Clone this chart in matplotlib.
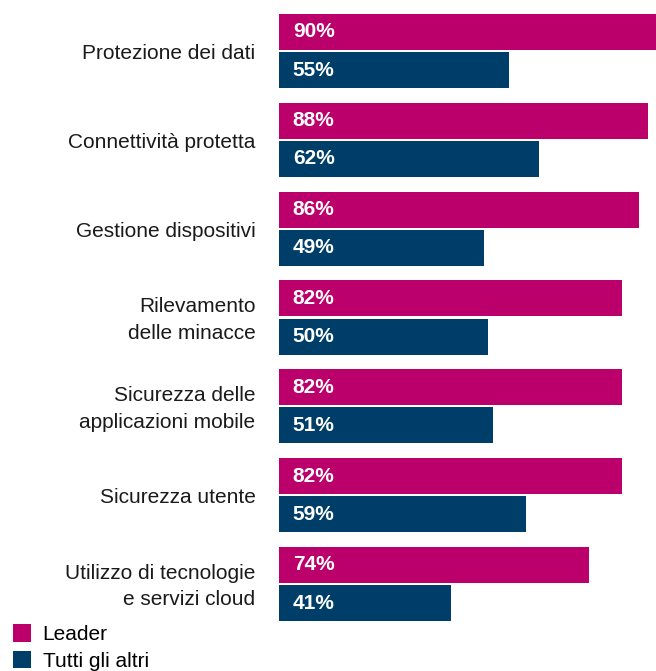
import matplotlib.pyplot as plt
import numpy as np

plt.rcParams['font.family'] = ['Liberation Sans', 'DejaVu Sans']

categorie = ["Protezione dei dati", "Connettività protetta", "Gestione dispositivi",
             "Rilevamento\ndelle minacce", "Sicurezza delle\napplicazioni mobile",
             "Sicurezza utente", "Utilizzo di tecnologie\ne servizi cloud"]
leader = [90, 88, 86, 82, 82, 82, 74]
altri = [55, 62, 49, 50, 51, 59, 41]
serie = ["Leader", "Tutti gli altri"]
col_leader = "#BC006B"
col_altri = "#003E6A"

fig = plt.figure(figsize=(6.56, 6.71), dpi=100)
ax = fig.add_axes([279/656, 0, 1 - 279/656, 1])

y = np.arange(len(categorie))
h = 0.405
off = 0.215
b1 = ax.barh(y - off, leader, height=h, color=col_leader, label=serie[0])
b2 = ax.barh(y + off, altri, height=h, color=col_altri, label=serie[1])

for yi, v in zip(y, leader):
    ax.text(3.3, yi - off, f"{v}%", color="white", fontsize=15, fontweight="bold",
            va="center", ha="left")
for yi, v in zip(y, altri):
    ax.text(3.3, yi + off, f"{v}%", color="white", fontsize=15, fontweight="bold",
            va="center", ha="left")

for yi, c in zip(y, categorie):
    ax.text(-5.6, yi + 0.03, c, fontsize=15, ha="right", va="center", linespacing=1.5,
            color="#1a1a1a")

ax.set_xlim(0, 90)
ax.set_ylim(6.98, -0.574)
ax.axis("off")

fig.legend(handles=[b1, b2], labels=serie, loc="lower left", bbox_to_anchor=(0.0, -0.018),
           frameon=False, fontsize=15, handlelength=0.9, handleheight=0.9,
           handletextpad=0.55, labelspacing=0.32, borderaxespad=0.2)

fig.savefig("out.png", dpi=100)
